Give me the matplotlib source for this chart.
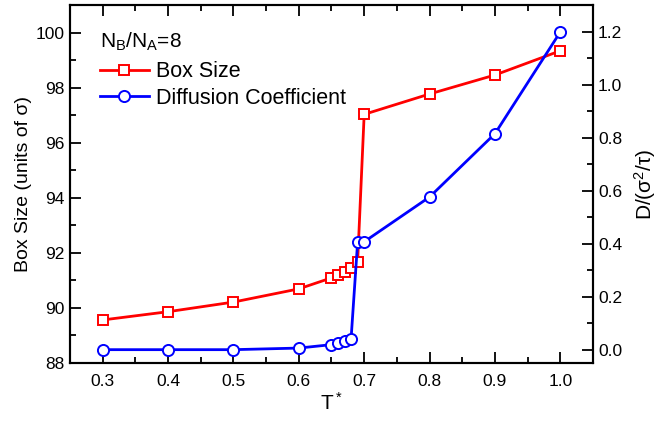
import numpy as np
import matplotlib.pyplot as plt

plt.rcParams['font.family'] = ['Liberation Sans', 'DejaVu Sans']
plt.rcParams['mathtext.fontset'] = 'custom'
plt.rcParams['mathtext.rm'] = 'Liberation Sans'
plt.rcParams['mathtext.it'] = 'Liberation Sans'

# data
temp_box = [0.3, 0.4, 0.5, 0.6, 0.65, 0.66, 0.67, 0.68, 0.69, 0.7, 0.8, 0.9, 1.0]
box_size = [89.56, 89.86, 90.21, 90.69, 91.09, 91.2, 91.3, 91.46, 91.68, 97.03, 97.77, 98.46, 99.34]

temp_diff = [0.3, 0.4, 0.5, 0.6, 0.65, 0.66, 0.67, 0.68, 0.69, 0.7, 0.8, 0.9, 1.0]
diff_coef = [0.0, 0.0, 0.0, 0.006, 0.019, 0.025, 0.031, 0.042, 0.407, 0.407, 0.576, 0.815, 1.199]

xticks = [0.3, 0.4, 0.5, 0.6, 0.7, 0.8, 0.9, 1.0]
dticks = [0.0, 0.2, 0.4, 0.6, 0.8, 1.0, 1.2]

fig = plt.figure(figsize=(6.59, 4.22), dpi=100)
ax = fig.add_axes([0.106, 0.140, 0.794, 0.848])
ax2 = ax.twinx()

l1, = ax.plot(temp_box, box_size, '-s', color='#ff0000', lw=2.0, ms=7,
              mfc='white', mec='#ff0000', mew=1.4, label='Box Size')
l2, = ax2.plot(temp_diff, diff_coef, '-o', color='#0000ff', lw=2.0, ms=8,
               mfc='white', mec='#0000ff', mew=1.4, label='Diffusion Coefficient')

ax.set_xlim(0.25, 1.05)
ax.set_ylim(88, 101)
ax2.set_ylim(-0.05, 1.3)
ax.set_xticks(xticks)
ax.set_xticklabels(['%.1f' % t for t in xticks])
ax.set_yticks([88, 90, 92, 94, 96, 98, 100])
ax2.set_yticks(dticks)
ax2.set_yticklabels(['%.1f' % v for v in dticks])
ax.set_xticks(np.arange(0.25, 1.06, 0.05), minor=True)
ax.set_yticks(np.arange(88, 101.1, 1), minor=True)
ax2.set_yticks(np.arange(0.0, 1.31, 0.1), minor=True)

ax.tick_params(axis='x', which='both', direction='in', top=True, labelsize=12.5, pad=8)
ax.tick_params(axis='y', which='both', direction='in', right=False, labelsize=12.5)
ax2.tick_params(axis='y', which='both', direction='in', labelsize=12.5)
for a in (ax, ax2):
    a.tick_params(which='major', length=8, width=1.3)
    a.tick_params(which='minor', length=4, width=1.3)
    for s in a.spines.values():
        s.set_linewidth(1.5)

ax.set_xlabel('T$^*$', fontsize=15, labelpad=2)
ax.set_ylabel('Box Size (units of σ)', fontsize=14, labelpad=3)
ax2.set_ylabel('D/(σ$^2$/τ)', fontsize=15, labelpad=7)

ax.text(0.057, 0.897, 'N$_\\mathregular{B}$/N$_\\mathregular{A}$=8', transform=ax.transAxes,
        fontsize=15, va='center', ha='left')
ax2.legend(handles=[l1, l2], loc='upper left', bbox_to_anchor=(0.057, 0.843),
           frameon=False, fontsize=15.5, handlelength=2.3, handletextpad=0.33,
           labelspacing=0.25, borderaxespad=0, borderpad=0)

fig.savefig('out.png', dpi=100)
